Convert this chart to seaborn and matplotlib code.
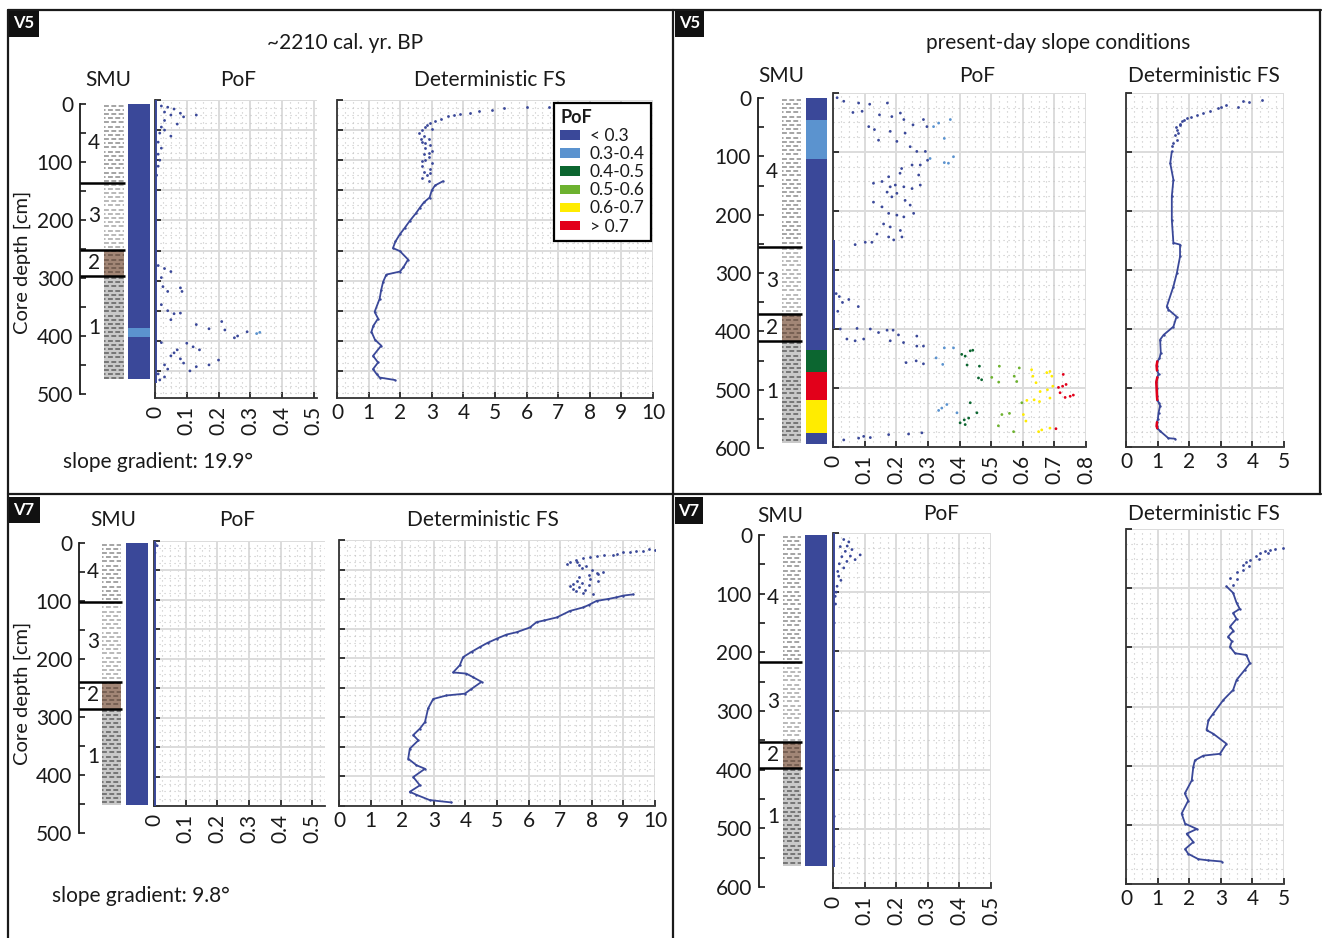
import numpy as np
import pandas as pd
import matplotlib.pyplot as plt
from matplotlib.ticker import MultipleLocator, AutoMinorLocator, FuncFormatter
from matplotlib.patches import Patch, Rectangle
from matplotlib.lines import Line2D
import seaborn as sns

# ---- PoF classes
pof_labels = ['< 0.3', '0.3-0.4', '0.4-0.5', '0.5-0.6', '0.6-0.7', '> 0.7']
pof_colors = ['#3a4899', '#5b93cf', '#0c6630', '#6db22f', '#ffec00', '#e2001a']
pof_bins = [0, 0.3, 0.4, 0.5, 0.6, 0.7, 1.0]

# ---- V5, ~2210 cal. yr. BP
v5a_smu_edges = [0, 136, 251, 297, 474]
v5a_smu_units = [4, 3, 2, 1]
v5a_bar_edges = [0, 386, 402, 474]
v5a_bar_class = [0, 1, 0]
v5a_pof_zero = [(0, 470)]
v5a_pof_value = [0.02, 0.04, 0.06, 0.08, 0.09, 0.05, 0.03, 0.13, 0.07, 0.02,
                 0.03, 0.05, 0.01, 0.02, 0.01, 0.015, 0.01, 0.005, 0.03, 0.015,
                 0.01, 0.03, 0.05, 0.02, 0.025, 0.04, 0.08, 0.085, 0.02, 0.04,
                 0.06, 0.08, 0.05, 0.13, 0.17, 0.21, 0.22, 0.26, 0.29, 0.33,
                 0.32, 0.02, 0.10, 0.07, 0.12, 0.05, 0.08, 0.03, 0.09, 0.20,
                 0.17, 0.13, 0.04, 0.01, 0.03, 0.06, 0.14, 0.25, 0.11, 0.015]
v5a_pof_depth = [10, 12, 15, 22, 28, 25, 20, 25, 40, 45,
                 50, 60, 70, 80, 90, 100, 110, 125, 34, 55,
                 275, 280, 285, 295, 310, 318, 312, 318, 340, 350,
                 355, 354, 365, 373, 380, 368, 382, 392, 385, 386,
                 388, 403, 404, 415, 410, 425, 430, 440, 437, 432,
                 440, 443, 447, 455, 460, 420, 415, 395, 450, 465]
v5a_cloud_value = [9.9, 6.7, 6.0, 5.3, 4.9, 4.5, 4.2, 3.9, 3.7, 3.5,
                   3.3, 3.1, 2.95, 2.8, 2.7, 2.6, 2.85, 3.0, 2.75, 2.9,
                   2.7, 2.95, 2.8, 3.0, 2.75, 2.9, 2.8, 3.0, 2.7, 2.95,
                   2.75, 2.85, 2.7, 2.9, 2.65, 2.8, 2.9, 2.7, 2.95]
v5a_cloud_depth = [7, 11, 12, 14, 17, 19, 21, 23, 25, 27,
                   31, 35, 39, 45, 50, 55, 42, 48, 60, 65,
                   70, 75, 80, 85, 90, 95, 100, 105, 110, 115,
                   120, 125, 130, 134, 65, 72, 88, 102, 122]
v5a_fs_value = [3.35, 3.1, 3.0, 2.93, 2.75, 2.62, 2.5, 2.3, 2.15, 1.99,
                1.85, 1.77, 1.99, 2.25, 2.1, 1.99, 1.56, 1.46, 1.4, 1.35,
                1.19, 1.30, 1.15, 1.09, 1.2, 1.40, 1.14, 1.30, 1.14, 1.25,
                1.35, 1.82]
v5a_fs_depth = [135, 142, 150, 162, 170, 179, 188, 201, 212, 223,
                235, 246, 251, 265, 278, 285, 290, 302, 315, 330,
                352, 363, 375, 385, 398, 408, 425, 436, 447, 455,
                461, 465]

# ---- V5, present-day slope conditions
v5b_smu_edges = [0, 255, 371, 417, 592]
v5b_smu_units = [4, 3, 2, 1]
v5b_bar_edges = [0, 38, 105, 432, 469, 518, 574, 593]
v5b_bar_class = [0, 1, 0, 2, 5, 4, 0]
v5b_pof_zero = [(250, 400)]
v5b_pof_value = [0.013, 0.034, 0.063, 0.081, 0.092, 0.116, 0.113, 0.131, 0.147, 0.172,
                 0.186, 0.213, 0.224, 0.253, 0.286, 0.297, 0.144, 0.181, 0.202, 0.228,
                 0.244, 0.265, 0.292, 0.299, 0.276, 0.25, 0.217, 0.212, 0.271, 0.176,
                 0.128, 0.155, 0.181, 0.197, 0.224, 0.25, 0.276, 0.171, 0.186, 0.202,
                 0.228, 0.244, 0.128, 0.155, 0.176, 0.202, 0.224, 0.255, 0.16, 0.181,
                 0.213, 0.139, 0.176, 0.192, 0.218, 0.07, 0.102, 0.123,
                 0.318, 0.334, 0.371, 0.352, 0.381, 0.352, 0.365, 0.307,
                 0.01, 0.02, 0.03, 0.05, 0.08, 0.015,
                 0.023, 0.076, 0.118, 0.144, 0.171, 0.19, 0.207, 0.097, 0.07, 0.044,
                 0.181, 0.223, 0.265, 0.265, 0.286, 0.231, 0.263, 0.286,
                 0.326, 0.352, 0.381, 0.347,
                 0.407, 0.418, 0.434, 0.442, 0.424, 0.463, 0.46, 0.47,
                 0.502, 0.526, 0.524, 0.573, 0.581, 0.589, 0.597,
                 0.628, 0.632, 0.642, 0.676, 0.686, 0.692, 0.655, 0.678, 0.686, 0.613,
                 0.636, 0.653, 0.695,
                 0.728, 0.713, 0.726, 0.737, 0.718, 0.734, 0.75, 0.76, 0.705,
                 0.334, 0.344, 0.36, 0.392,
                 0.402, 0.415, 0.429, 0.434, 0.455, 0.418,
                 0.523, 0.534, 0.558, 0.571, 0.602,
                 0.61, 0.65, 0.686, 0.66,
                 0.034, 0.081, 0.097, 0.118, 0.176, 0.239, 0.281]
v5b_pof_depth = [8, 14, 33, 17, 31, 19, 57, 62, 37, 17,
                 40, 34, 45, 54, 45, 57, 80, 65, 82, 68,
                 91, 99, 99, 114, 122, 122, 128, 136, 139, 142,
                 153, 150, 159, 156, 159, 162, 156, 168, 176, 170,
                 182, 190, 185, 193, 204, 207, 210, 204, 222, 227,
                 233, 239, 244, 249, 244, 257, 253, 253,
                 57, 51, 45, 77, 108, 118, 119, 111,
                 340, 345, 355, 350, 362, 370,
                 400, 399, 400, 406, 402, 402, 410, 417, 420, 417,
                 420, 423, 412, 429, 429, 457, 454, 459,
                 449, 432, 432, 460,
                 443, 446, 437, 436, 461, 463, 483, 486,
                 482, 463, 490, 480, 489, 466, 525,
                 469, 480, 491, 474, 472, 480, 506, 503, 517, 521,
                 520, 523, 497,
                 477, 499, 497, 494, 508, 516, 514, 512, 569,
                 538, 534, 528, 542,
                 559, 554, 551, 525, 542, 562,
                 564, 545, 543, 574, 545,
                 556, 574, 568, 571,
                 588, 585, 582, 584, 579, 578, 576]
v5b_cloud_value = [4.29, 3.9, 3.71, 3.55, 3.18, 2.9, 2.66, 2.45, 2.24, 2.05,
                   1.92, 1.85, 1.76, 1.7, 1.61, 1.65, 1.55, 1.6, 1.5, 1.72,
                   1.58, 1.45, 3.0]
v5b_cloud_depth = [12, 16, 14, 23, 21, 26, 31, 34, 37, 40,
                   42, 46, 48, 55, 62, 68, 72, 80, 85, 52,
                   58, 90, 24]
v5b_fs_value = [1.45, 1.4, 1.5, 1.45, 1.45, 1.5, 1.71, 1.71, 1.61, 1.5,
                1.29, 1.34, 1.6, 1.5, 1.19, 1.08, 1.1, 1.06, 0.99, 0.97,
                0.98, 1.03, 0.99, 0.96, 0.97, 0.98, 0.99, 1.05, 1.08, 1.03,
                1.01, 0.98, 0.97, 0.99, 1.08, 1.34, 1.55]
v5b_fs_depth = [99, 119, 147, 175, 215, 254, 257, 277, 305, 328,
                362, 367, 379, 396, 410, 418, 440, 450, 455, 462,
                470, 476, 482, 490, 500, 514, 520, 526, 530, 542,
                552, 558, 565, 568, 573, 585, 586]

# ---- V7, ~2210 cal. yr. BP
v7a_smu_edges = [0, 101, 239, 286, 452]
v7a_smu_units = [4, 3, 2, 1]
v7a_bar_edges = [0, 452]
v7a_bar_class = [0]
v7a_pof_zero = [(0, 450)]
v7a_pof_value = [0.004, 0.01, 0.003, 0.002]
v7a_pof_depth = [5, 8, 20, 60]
v7a_cloud_value = [10.0, 9.8, 9.63, 9.4, 9.2, 9.0, 8.8, 8.68, 8.4, 8.15,
                   7.95, 7.73, 7.5, 7.2, 7.3, 7.52, 7.6, 7.83, 7.7, 8.0,
                   8.15, 8.36, 8.2, 7.9, 7.6, 7.94, 7.52, 7.7, 7.4, 7.31,
                   7.6, 7.41, 7.8, 7.73, 8.05, 7.5, 8.2, 7.9]
v7a_cloud_depth = [17, 16, 19, 18, 21, 20, 23, 26, 25, 27,
                   28, 30, 34, 41, 38, 38, 42, 44, 48, 50,
                   55, 54, 58, 60, 62, 66, 69, 72, 75, 78,
                   80, 83, 85, 89, 92, 87, 70, 76]
v7a_fs_value = [9.31, 9.0, 8.78, 8.5, 8.15, 7.9, 7.73, 7.31, 6.89, 6.5,
                6.25, 6.04, 5.62, 5.3, 4.99, 4.7, 4.46, 4.2, 3.93, 3.82,
                3.61, 4.03, 4.24, 4.51, 4.19, 3.98, 3.4, 2.98, 2.82, 2.72,
                2.56, 2.35, 2.51, 2.24, 2.19, 2.45, 2.72, 2.35, 2.56, 2.24,
                2.45, 2.87, 3.56]
v7a_fs_depth = [92, 94, 97, 100, 103, 110, 114, 120, 131, 136,
                139, 148, 156, 160, 167, 174, 181, 189, 198, 212,
                224, 226, 232, 240, 252, 260, 263, 269, 285, 308,
                319, 330, 339, 353, 370, 381, 387, 401, 415, 426,
                431, 440, 444]

# ---- V7, present-day slope conditions
v7b_smu_edges = [0, 216, 353, 397, 564]
v7b_smu_units = [4, 3, 2, 1]
v7b_bar_edges = [0, 564]
v7b_bar_class = [0]
v7b_pof_zero = [(0, 564)]
v7b_pof_value = [0.034, 0.023, 0.039, 0.055, 0.086, 0.044, 0.034, 0.018, 0.013, 0.007,
                 0.004, 0.003, 0.004, 0.003, 0.06, 0.045, 0.028, 0.07, 0.02, 0.05,
                 0.015, 0.025, 0.01, 0.008]
v7b_pof_depth = [11, 23, 31, 39, 37, 48, 59, 73, 90, 107,
                 152, 377, 479, 530, 28, 22, 40, 45, 52, 15,
                 65, 80, 100, 120]
v7b_cloud_value = [4.97, 4.7, 4.55, 4.4, 4.23, 4.5, 4.1, 3.92, 4.2, 3.8,
                   3.71, 3.9, 3.5, 3.7, 3.29, 3.5, 3.4]
v7b_cloud_depth = [32, 33, 35, 38, 41, 40, 45, 52, 50, 55,
                   60, 62, 72, 70, 83, 85, 95]
v7b_fs_value = [3.18, 3.39, 3.5, 3.6, 3.39, 3.5, 3.29, 3.4, 3.23, 3.35,
                3.29, 3.45, 3.81, 3.92, 3.76, 3.5, 3.39, 3.08, 2.76, 2.61,
                2.55, 2.76, 3.18, 2.97, 2.45, 2.18, 2.13, 2.08, 1.86, 1.97,
                1.76, 1.87, 2.24, 1.92, 2.13, 1.87, 1.97, 2.29, 2.6, 3.03]
v7b_fs_depth = [97, 108, 125, 135, 142, 152, 165, 172, 182, 190,
                199, 210, 213, 227, 238, 255, 272, 289, 312, 323,
                340, 346, 363, 380, 383, 391, 402, 425, 447, 459,
                481, 498, 507, 515, 529, 541, 549, 558, 560, 562]

# ---- styles
smu_face = {4: 'white', 3: 'white', 2: '#a28676', 1: '#c9c9c9'}
smu_dash = {4: '#8c8c8c', 3: '#a5a5a5', 2: '#6b5549', 1: '#5f5f5f'}
blue = pof_colors[0]

sns.set_theme(style='white')
plt.rcParams['font.family'] = ['Lato', 'DejaVu Sans']
plt.rcParams['text.color'] = '#1a1a1a'

W, H = 1322, 938
fig = plt.figure(figsize=(W / 100, H / 100), dpi=100)


def px_ax(x0, y0, x1, y1):
    return fig.add_axes([x0 / W, 1 - y1 / H, (x1 - x0) / W, (y1 - y0) / H])


def ftext(x, y, s, **kw):
    fig.text(x / W, 1 - y / H, s, **kw)


def fline(xs, ys, **kw):
    fig.add_artist(Line2D([x / W for x in xs], [1 - y / H for y in ys], **kw))


def draw_core(box, smu_x, bar_x, depth_max, smu_edges, smu_units, bar_edges, bar_class):
    x0, y0, x1, y1 = box
    ax = px_ax(x0, y0, x1, y1)
    ax.patch.set_alpha(0)
    sx0, sx1 = smu_x[0] - x0, smu_x[1] - x0
    for top, bot, unit in zip(smu_edges[:-1], smu_edges[1:], smu_units):
        ax.bar((sx0 + sx1) / 2, bot - top, bottom=top, width=sx1 - sx0,
               color=smu_face[unit], lw=0, zorder=1)
        rows = np.arange(top + 3, bot - 1, 7.2)
        for j, r in enumerate(rows):
            ax.hlines(r, sx0, sx1, colors=smu_dash[unit], lw=1.1,
                      linestyles=[((j % 2) * 2.2, (3.2, 1.6))], zorder=2)
        ax.text(14, (top + bot) / 2, str(unit), ha='center', va='center', fontsize=15)
    ax.hlines(smu_edges[1:-1], 0, sx1 + 1, colors='black', lw=1.8, zorder=3)
    bx0, bx1 = bar_x[0] - x0, bar_x[1] - x0
    for top, bot, c in zip(bar_edges[:-1], bar_edges[1:], bar_class):
        ax.bar((bx0 + bx1) / 2, bot - top, bottom=top, width=bx1 - bx0,
               color=pof_colors[c], lw=0, zorder=1)
    ax.set_xlim(0, x1 - x0)
    ax.set_ylim(depth_max, 0)
    for s in ['top', 'right', 'bottom']:
        ax.spines[s].set_visible(False)
    ax.spines['left'].set_color('#1a1a1a')
    ax.spines['left'].set_linewidth(1.3)
    ax.set_xticks([])
    ax.yaxis.set_major_locator(MultipleLocator(100))
    ax.yaxis.set_minor_locator(MultipleLocator(50))
    ax.tick_params(axis='y', which='both', direction='in', length=4.5, width=1.2,
                   left=True, labelsize=15, pad=5, colors='#1a1a1a')
    ax.grid(False)
    return ax


def style_data_ax(ax, xmax, xstep, ymax, ystep, rotate):
    ax.set_xlim(0, xmax)
    ax.set_ylim(ymax, 0)
    ax.xaxis.set_major_locator(MultipleLocator(xstep))
    ax.yaxis.set_major_locator(MultipleLocator(ystep))
    ax.xaxis.set_minor_locator(AutoMinorLocator(4))
    ax.yaxis.set_minor_locator(AutoMinorLocator(4))
    ax.grid(which='major', color='#dcdcdc', lw=1.4)
    ax.grid(which='minor', color='#c4c4c4', lw=0.8, ls=(0, (1, 3.5)))
    ax.set_axisbelow(True)
    ax.tick_params(which='major', direction='in', length=4, width=1.2,
                   left=True, bottom=True, labelleft=False, labelsize=15,
                   colors='#1a1a1a')
    ax.tick_params(which='minor', length=0)
    if rotate:
        ax.xaxis.set_major_formatter(FuncFormatter(lambda v, p: '0' if abs(v) < 1e-9 else f'{v:.1f}'))
        ax.tick_params(axis='x', labelrotation=90, pad=6)
    else:
        ax.xaxis.set_major_formatter(FuncFormatter(lambda v, p: f'{v:.0f}'))
    for s in ['top', 'right']:
        ax.spines[s].set_visible(False)
    for s in ['left', 'bottom']:
        ax.spines[s].set_color('#333333')
        ax.spines[s].set_linewidth(1.3)
    ax.set_xlabel('')
    ax.set_ylabel('')


def draw_pof(box, xmax, ymax, ystep, values, depths, zero):
    ax = px_ax(*box)
    df = pd.DataFrame({'pof': values, 'depth': depths})
    df['cls'] = pd.cut(df['pof'], pof_bins, labels=pof_labels)
    for a, b in zero:
        ax.vlines(0.004, a, b, color=blue, lw=1.4, zorder=3)
    sns.scatterplot(data=df, x='pof', y='depth', hue='cls',
                    palette=dict(zip(pof_labels, pof_colors)), s=4,
                    linewidth=0, legend=False, ax=ax, zorder=4)
    style_data_ax(ax, xmax, 0.1, ymax, ystep, True)
    return ax


def draw_fs(box, xmax, ymax, ystep, cloud_v, cloud_d, fs_v, fs_d):
    ax = px_ax(*box)
    cloud = pd.DataFrame({'fs': cloud_v, 'depth': cloud_d})
    prof = pd.DataFrame({'fs': fs_v, 'depth': fs_d})
    sns.scatterplot(data=cloud, x='fs', y='depth', color=blue, s=4, linewidth=0, ax=ax, zorder=4)
    sns.lineplot(data=prof, x='fs', y='depth', sort=False, estimator=None, orient='y',
                 color=blue, lw=1.3, ax=ax, zorder=4)
    sns.scatterplot(data=prof, x='fs', y='depth', color=blue, s=3, linewidth=0, ax=ax, zorder=4)
    # segments with FS below 1 belong to the highest PoF class
    prof['low'] = prof['fs'] < 1.0
    prof['run'] = (prof['low'] != prof['low'].shift()).cumsum()
    for _, g in prof[prof['low']].groupby('run'):
        sns.lineplot(data=g, x='fs', y='depth', sort=False, estimator=None, orient='y',
                     color=pof_colors[5], lw=1.8, ax=ax, zorder=5)
    style_data_ax(ax, xmax, 1, ymax, ystep, False)
    return ax


# ---------- top left: V5 ~2210 cal. yr. BP
draw_core((80, 104, 150, 394), (104, 124), (128, 150), 500,
          v5a_smu_edges, v5a_smu_units, v5a_bar_edges, v5a_bar_class)
draw_pof((155, 100, 317, 398), 0.51, 495, 50, v5a_pof_value, v5a_pof_depth, v5a_pof_zero)
ax_leg = draw_fs((337, 100, 653, 398), 10, 495, 50,
                 v5a_cloud_value, v5a_cloud_depth, v5a_fs_value, v5a_fs_depth)
handles = [Patch(facecolor=c, edgecolor='none') for c in pof_colors]
leg = ax_leg.legend(handles, pof_labels, title='PoF', loc='upper right',
                    bbox_to_anchor=(651 / W, 1 - 103 / H), bbox_transform=fig.transFigure,
                    fontsize=12.5, title_fontproperties={'weight': 'bold', 'size': 13},
                    frameon=True, fancybox=False, framealpha=1, edgecolor='black',
                    handlelength=1.1, handleheight=0.45, handletextpad=0.6,
                    labelspacing=0.12, borderpad=0.35, borderaxespad=0)
leg.get_frame().set_linewidth(1.6)
leg._legend_box.align = 'left'

# ---------- top right: V5 present-day
draw_core((758, 98, 827, 448), (782, 801), (806, 827), 600,
          v5b_smu_edges, v5b_smu_units, v5b_bar_edges, v5b_bar_class)
draw_pof((833, 93, 1086, 447), 0.8, 600, 100, v5b_pof_value, v5b_pof_depth, v5b_pof_zero)
draw_fs((1126, 93, 1284, 447), 5, 600, 100,
        v5b_cloud_value, v5b_cloud_depth, v5b_fs_value, v5b_fs_depth)

# ---------- bottom left: V7 ~2210 cal. yr. BP
draw_core((79, 543, 148, 833), (102, 121), (126, 148), 500,
          v7a_smu_edges, v7a_smu_units, v7a_bar_edges, v7a_bar_class)
draw_pof((154, 541, 325, 806), 0.54, 450, 50, v7a_pof_value, v7a_pof_depth, v7a_pof_zero)
draw_fs((339, 540, 655, 806), 10, 450, 50,
        v7a_cloud_value, v7a_cloud_depth, v7a_fs_value, v7a_fs_depth)

# ---------- bottom right: V7 present-day
draw_core((759, 535, 827, 887), (783, 801), (805, 827), 600,
          v7b_smu_edges, v7b_smu_units, v7b_bar_edges, v7b_bar_class)
draw_pof((833, 533, 991, 888), 0.5, 600, 100, v7b_pof_value, v7b_pof_depth, v7b_pof_zero)
draw_fs((1126, 529, 1284, 884), 5, 600, 100,
        v7b_cloud_value, v7b_cloud_depth, v7b_fs_value, v7b_fs_depth)

# ---------- texts
ftext(345, 43, '~2210 cal. yr. BP', ha='center', va='center', fontsize=15)
ftext(1058, 43, 'present-day slope conditions', ha='center', va='center', fontsize=15)
for x, y, s in [(108, 80, 'SMU'), (238, 80, 'PoF'), (490, 80, 'Deterministic FS'),
                (781, 76, 'SMU'), (977, 76, 'PoF'), (1204, 76, 'Deterministic FS'),
                (113, 520, 'SMU'), (237, 520, 'PoF'), (483, 520, 'Deterministic FS'),
                (780, 516, 'SMU'), (941, 514, 'PoF'), (1204, 514, 'Deterministic FS')]:
    ftext(x, y, s, ha='center', va='center', fontsize=15)
ftext(63, 462, 'slope gradient: 19.9°', ha='left', va='center', fontsize=15)
ftext(52, 896, 'slope gradient: 9.8°', ha='left', va='center', fontsize=15)
ftext(22, 262, 'Core depth [cm]', ha='center', va='center', rotation=90, fontsize=14.5)
ftext(22, 693, 'Core depth [cm]', ha='center', va='center', rotation=90, fontsize=14.5)

# ---------- panel frames and site tags
frame = dict(color='#1a1a1a', lw=1.6)
fline([8, 1321], [10, 10], **frame)
fline([8, 8], [10, 938], **frame)
fline([673, 673], [10, 938], **frame)
fline([1320, 1320], [10, 494], **frame)
fline([8, 1321], [494, 494], **frame)
for x0, y0, x1, y1, s in [(8, 10, 39, 37, 'V5'), (675, 10, 704, 37, 'V5'),
                          (8, 497, 40, 523, 'V7'), (675, 497, 703, 524, 'V7')]:
    fig.add_artist(Rectangle((x0 / W, 1 - y1 / H), (x1 - x0) / W, (y1 - y0) / H,
                             facecolor='#111111', edgecolor='none', transform=fig.transFigure))
    ftext((x0 + x1) / 2, (y0 + y1) / 2, s, ha='center', va='center',
          color='white', fontsize=12, fontweight='bold')

fig.savefig('out.png', dpi=100, facecolor='white')
